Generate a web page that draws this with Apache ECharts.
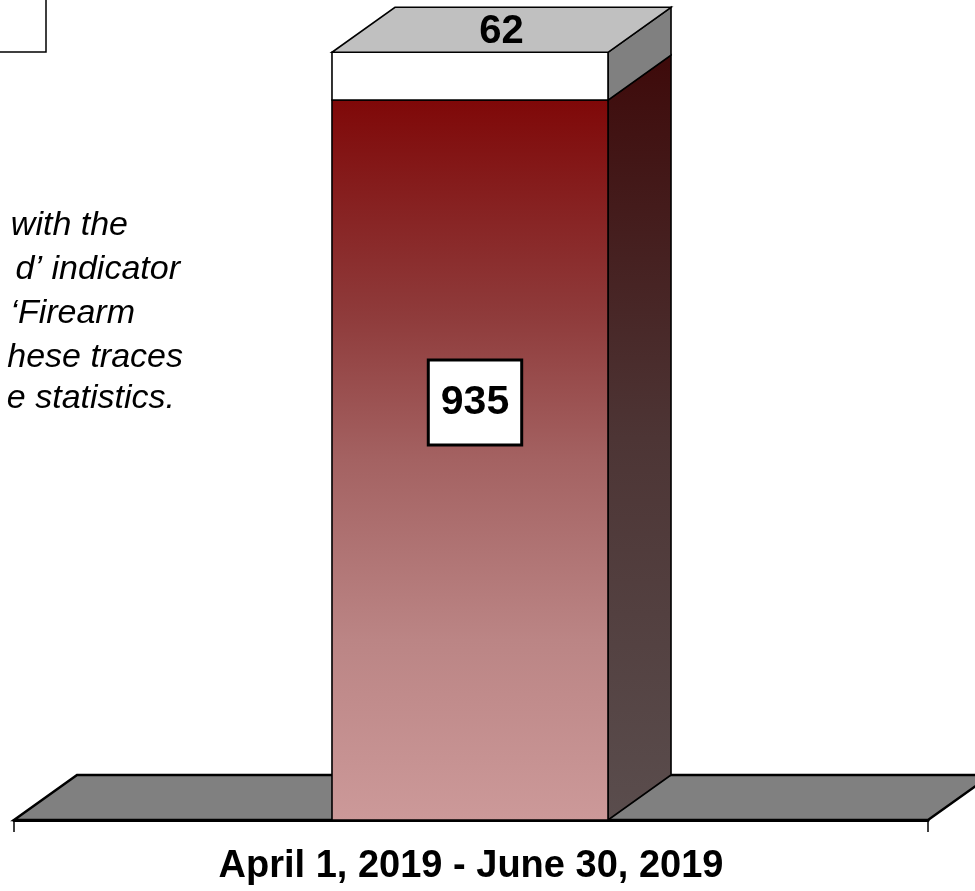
<!DOCTYPE html>
<html><head><meta charset="utf-8">
<script src="https://cdn.jsdelivr.net/npm/echarts@6/dist/echarts.min.js"></script>
<style>html,body{margin:0;padding:0;background:#fff}#c{width:975px;height:891px}</style>
</head><body><div id="c"></div>
<script>
// ---- data ----
const categories = ['April 1, 2019 - June 30, 2019'];
const lowerValues = [935];
const upperValues = [62];
const noteLines = ['with the', 'd\u2019 indicator', '\u2018Firearm', 'hese traces', 'e statistics.'];

// ---- style constants ----
const DX = 63, DY = 45, BAR_RATIO = 0.302;
const FONT = 'Arial, "Liberation Sans", Helvetica, sans-serif';

const frontRed = {type:'linear', x:0, y:0, x2:0, y2:1, colorStops:[
  {offset:0, color:'#7f0808'}, {offset:0.3, color:'#8f3b3b'}, {offset:0.5, color:'#a46262'},
  {offset:0.75, color:'#bb8585'}, {offset:1, color:'#cc9999'}]};
const sideRed = {type:'linear', x:0, y:0, x2:0, y2:1, colorStops:[
  {offset:0, color:'#3e0a0a'}, {offset:0.5, color:'#4d3535'}, {offset:1, color:'#5a4d4d'}]};

function segmentRenderer(bases, vals, look) {
  return function (params, api) {
    const i = params.dataIndex;
    const cat = api.value(0);
    const base = bases[i], v = vals[i];
    const p0 = api.coord([cat, base]);
    const p1 = api.coord([cat, base + v]);
    const w = api.size([1, 0])[0] * BAR_RATIO;
    const xl = p0[0] - w / 2 - 1, xr = xl + w;
    const yb = p0[1], yt = p1[1];
    const edge = {stroke:'#000', lineWidth:1.6};
    const children = [
      {type:'polygon', shape:{points:[[xr,yb],[xr+DX,yb-DY],[xr+DX,yt-DY],[xr,yt]]},
        style:Object.assign({fill:look.side}, edge)},
      {type:'rect', shape:{x:xl, y:yt, width:w, height:yb-yt},
        style:Object.assign({fill:look.front}, edge)}
    ];
    if (look.top) {
      children.push({type:'polygon', shape:{points:[[xl,yt],[xr,yt],[xr+DX,yt-DY],[xl+DX,yt-DY]]},
        style:Object.assign({fill:look.top}, edge)});
      children.push({type:'text', x:(xl+xr)/2 + DX/2, y:yt - DY/2 + 2,
        style:{text:String(v), font:'bold 40px ' + FONT, fill:'#000', align:'center', verticalAlign:'middle'}});
    }
    if (look.innerLabel) {
      children.push({type:'text', x:(xl+xr)/2 + 5, y:yt + 0.42*(yb-yt),
        style:{text:String(v), font:'bold 41px ' + FONT, fill:'#000', align:'center', verticalAlign:'middle',
          lineHeight:40, backgroundColor:'#fff', borderColor:'#000', borderWidth:3, padding:[21,11,21,11]}});
    }
    return {type:'group', children:children};
  };
}

const chart = echarts.init(document.getElementById('c'));
chart.setOption({
  animation:false,
  backgroundColor:'#fff',
  grid:{left:14, right:47, top:50, bottom:71},
  xAxis:{type:'category', data:categories,
    axisLine:{lineStyle:{color:'#000', width:3}},
    axisTick:{show:true, length:12, lineStyle:{color:'#000', width:1.5}},
    axisLabel:{fontSize:38, fontWeight:'bold', color:'#000', fontFamily:FONT, margin:28, lineHeight:38},
    splitLine:{show:false}},
  yAxis:{type:'value', min:0, max:1000, show:false},
  graphic:[
    {type:'rect', shape:{x:-5, y:-5, width:51, height:57},
      style:{fill:'#fff', stroke:'#000', lineWidth:1.5}, z:10},
  ].concat(noteLines.map(function (t, k) {
    const ends = [128, 180, 135, 183, 175];
    const bases = [237, 281, 325, 369, 410];
    return {type:'text', x:ends[k], y:bases[k] - 11, z:10,
      style:{text:t, font:'italic 34px ' + FONT, fill:'#000', align:'right', verticalAlign:'middle'}};
  })),
  series:[
    {type:'custom', name:'floor', clip:false, z:1,
      data:categories.map(function (c, i) { return [i, 0]; }),
      renderItem:function (params, api) {
        const cs = params.coordSys;
        const yb = cs.y + cs.height;
        return {type:'polygon', shape:{points:[[cs.x, yb],[cs.x+cs.width, yb],[cs.x+cs.width+DX, yb-DY],[cs.x+DX, yb-DY]]},
          style:{fill:'#808080', stroke:'#000', lineWidth:2.5}};
      }},
    {type:'custom', name:'lower', clip:false, z:3,
      data:categories.map(function (c, i) { return [i, lowerValues[i]]; }),
      encode:{x:0, y:1},
      renderItem:segmentRenderer(categories.map(function(){return 0;}), lowerValues,
        {front:frontRed, side:sideRed, innerLabel:true})},
    {type:'custom', name:'upper', clip:false, z:4,
      data:categories.map(function (c, i) { return [i, lowerValues[i] + upperValues[i]]; }),
      encode:{x:0, y:1},
      renderItem:segmentRenderer(lowerValues, upperValues,
        {front:'#ffffff', side:'#808080', top:'#c0c0c0'})}
  ]
});
</script></body></html>
